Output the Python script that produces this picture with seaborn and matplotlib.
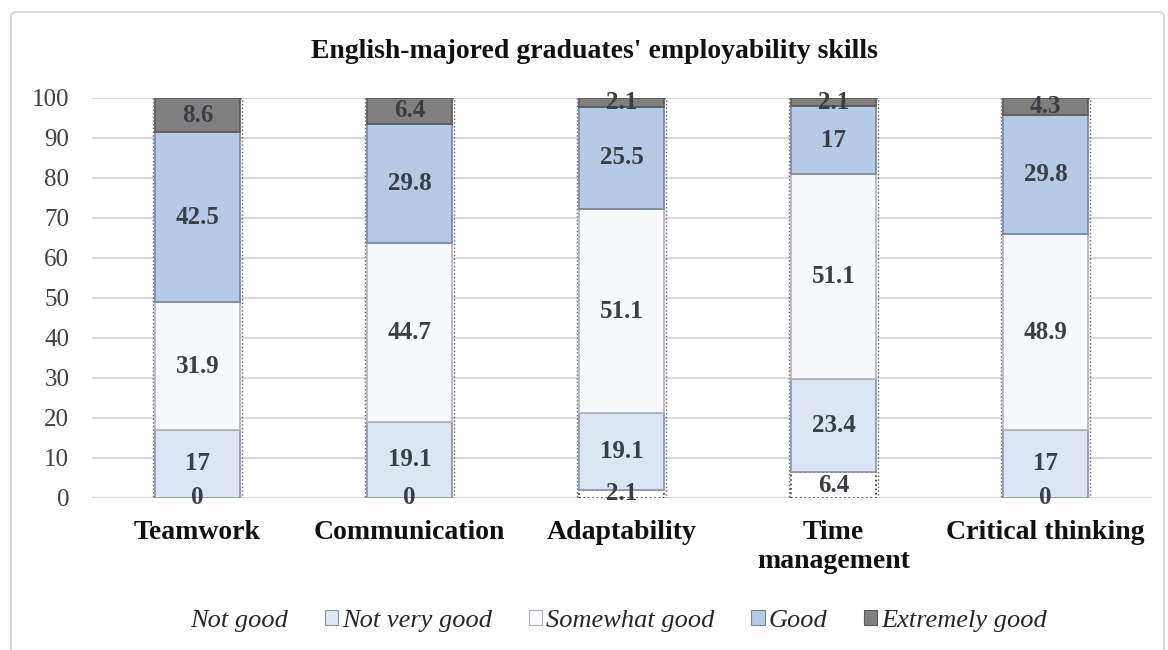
import numpy as np
import pandas as pd
import matplotlib
matplotlib.use("Agg")
import matplotlib.pyplot as plt
import seaborn as sns
from matplotlib.patches import FancyBboxPatch, Patch

# data (percent)
skills = ["Teamwork", "Communication", "Adaptability", "Time\nmanagement", "Critical thinking"]
levels = ["Not good", "Not very good", "Somewhat good", "Good", "Extremely good"]
not_good = [0, 0, 2.1, 6.4, 0]
not_very_good = [17, 19.1, 19.1, 23.4, 17]
somewhat_good = [31.9, 44.7, 51.1, 51.1, 48.9]
good = [42.5, 29.8, 25.5, 17, 29.8]
extremely_good = [8.6, 6.4, 2.1, 2.1, 4.3]

series = [not_good, not_very_good, somewhat_good, good, extremely_good]
colors = ["#ffffff", "#dce6f2", "#f7f9fc", "#b4cae6", "#808080"]
edges = ["#303030", "#8a94a3", "#b0b4ba", "#7a8798", "#5a5a5a"]
styles = [":", "-", "-", "-", "-"]

sns.set_style("white")
plt.rcParams["font.family"] = ["Liberation Serif", "DejaVu Serif"]

W, H = 1168, 650
fig = plt.figure(figsize=(W / 100, H / 100), dpi=100)
ax = fig.add_axes([91.5 / W, 152 / H, 1060 / W, 400 / H])

# frame around the whole chart
frame = FancyBboxPatch((11 / W, -0.02), 1153 / W, 1 - 12 / H + 0.02,
                       boxstyle="round,pad=0,rounding_size=0.006",
                       transform=fig.transFigure, fill=False, edgecolor="#d9d9d9",
                       linewidth=1.5, zorder=0)
fig.patches.append(frame)

# dotted outline round each whole stack
totals = np.sum(series, axis=0)
sns.barplot(x=skills, y=totals, fill=False, width=0.42, edgecolor="#606060",
            linewidth=1.0, linestyle=":", ax=ax, zorder=2)

bottom = np.zeros(len(skills))
for name, vals, c, ec, ls in zip(levels, series, colors, edges, styles):
    df = pd.DataFrame({"skill": skills, "value": vals})
    sns.barplot(data=df, x="skill", y="value", bottom=bottom, color=c, width=0.40,
                edgecolor=ec, linewidth=1.2, linestyle=ls, saturation=1, ax=ax, zorder=3)
    for i, v in enumerate(vals):
        ax.text(i, bottom[i] + v / 2, f"{v:g}", ha="center", va="center",
                fontsize=18, fontweight="bold", color="#3a3f45", zorder=5)
    bottom = bottom + np.array(vals)

ax.set_xlim(-0.5, 4.5)
ax.set_ylim(0, 100)
ax.set_yticks(range(0, 101, 10))
ax.yaxis.grid(True, color="#d9d9d9", linewidth=1.6, zorder=0)
ax.set_axisbelow(True)
for s in ax.spines.values():
    s.set_visible(False)
ax.set_xlabel("")
ax.set_ylabel("")
ax.tick_params(axis="y", labelsize=18, colors="#404040", length=0, pad=16)
ax.tick_params(axis="x", labelsize=20, length=0, pad=16)
for lab in ax.get_xticklabels():
    lab.set_fontweight("bold")
    lab.set_color("#111111")

fig.text(594 / W, 1 - 58 / H, "English-majored graduates' employability skills",
         ha="center", va="baseline", fontsize=20, fontweight="bold", color="#111111")

handles = [Patch(facecolor=c, edgecolor=ec, linewidth=0.8) for c, ec in zip(colors, edges)]
handles[0] = Patch(facecolor="none", edgecolor="none")
leg = fig.legend(handles, levels, loc="center", bbox_to_anchor=(610 / W, 1 - 621 / H), ncol=5,
                 frameon=False, prop={"style": "italic", "size": 19}, handlelength=0.5,
                 handleheight=0.5, handletextpad=0.15, columnspacing=1.4)
for t in leg.get_texts():
    t.set_color("#262626")

fig.savefig("out.png", dpi=100)
